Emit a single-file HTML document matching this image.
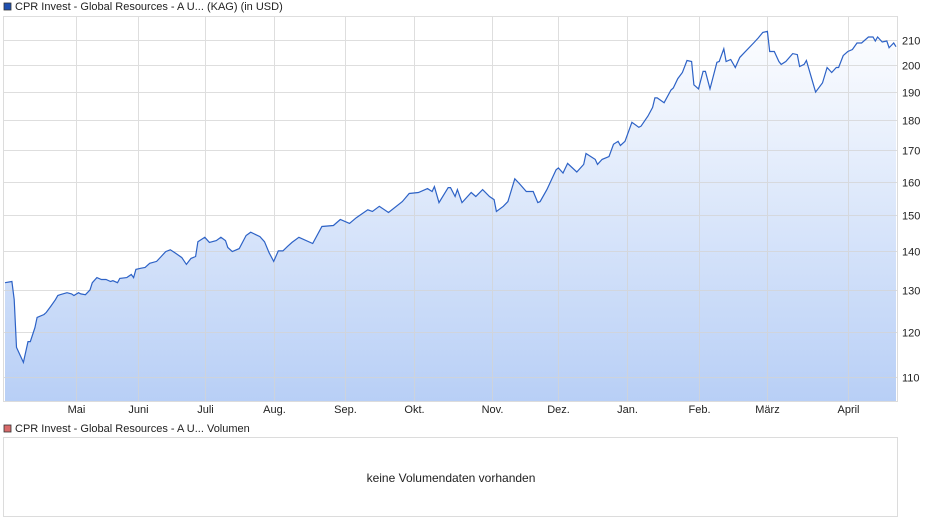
<!DOCTYPE html>
<html><head><meta charset="utf-8"><style>
body{margin:0;background:#fff;font-family:"Liberation Sans",sans-serif;}
svg{display:block}
text{font-family:"Liberation Sans",sans-serif;}
</style></head><body>
<svg id="c" width="940" height="526">
<defs><linearGradient id="g" gradientUnits="userSpaceOnUse" x1="0" y1="16" x2="0" y2="401">
<stop offset="0" stop-color="#ffffff"/><stop offset="1" stop-color="#b8cff6"/></linearGradient></defs>
<rect x="4" y="3" width="7" height="7" fill="#1f4fb0" stroke="#333" stroke-width="0.8"/>
<text x="15" y="10" font-size="11" fill="#222">CPR Invest - Global Resources - A U... (KAG) (in USD)</text>
<path id="area" fill="url(#g)"/>
<g id="grid" opacity="0.75"></g>
<path id="line" fill="none" stroke="#2d62c6" stroke-width="1.2"/>
<g id="axes"></g>
<rect x="4" y="425" width="7" height="7" fill="#d96a6a" stroke="#333" stroke-width="0.8"/>
<text x="15" y="432" font-size="11" fill="#222">CPR Invest - Global Resources - A U... Volumen</text>
<rect x="3.5" y="437.5" width="894" height="79" fill="none" stroke="#dcdcdc"/>
<text x="451" y="482" font-size="12" fill="#222" text-anchor="middle">keine Volumendaten vorhanden</text>
</svg>
<script>
const days=[0,3,4,5,8,10,11,13,14,17,18,20,22,23,24,27,29,30,32,33,35,37,38,40,42,44,46,47,49,50,53,55,56,57,59,61,63,66,68,70,72,74,77,79,81,83,84,87,89,92,94,96,97,99,102,105,107,109,111,113,115,117,119,121,123,125,128,134,138,143,146,150,153,158,160,163,167,173,176,180,184,186,187,189,193,194,196,197,199,203,205,208,211,213,214,217,219,222,224,227,230,232,233,236,240,241,243,245,249,252,253,257,258,260,263,265,267,268,270,273,276,277,280,282,283,284,287,290,291,293,295,297,299,300,302,304,305,307,310,311,313,314,316,318,320,322,326,328,330,332,333,335,337,338,340,343,345,346,348,349,353,356,358,360,362,363,365,367,369,371,373,376,378,379,380,382,384,385,387,388];
const prices=[131.8,132.1,127.6,116.4,113.1,117.7,117.7,120.9,123.3,124.0,124.5,126.0,127.6,128.6,128.8,129.3,129.0,128.6,129.3,129.0,128.8,130,131.8,133.1,132.6,132.6,132.1,132.3,131.8,132.9,133.1,133.9,133.1,135.2,135.5,135.7,136.8,137.3,138.6,139.9,140.4,139.6,138.3,136.5,138.1,138.6,142.6,143.8,142.4,142.9,143.8,142.9,141.0,139.9,140.7,144.3,145.2,144.6,144.0,142.6,139.6,137.3,140.1,140.1,141.3,142.4,143.8,142.1,146.8,147.1,148.8,147.7,149.3,151.6,151.1,152.6,150.8,154.0,156.4,156.7,157.9,157.0,158.5,153.7,158.2,158.2,155.5,157.6,153.7,156.7,155.5,157.6,155.5,154.6,151.1,152.6,154.0,160.9,159.4,157.0,157.0,153.7,154.0,157.6,163.7,164.3,162.7,165.7,163.0,165.4,168.9,167.0,165.4,167.0,167.9,171.9,172.9,171.5,172.9,179.3,177.6,178.0,181.5,184.5,187.9,187.9,186.2,190.8,191.5,195,197.3,201.9,201.5,192.7,191.2,197.7,197.7,191.2,201.2,201.5,206.5,201.5,202.3,199.2,203.1,205,208.8,210.8,213.1,213.5,205.4,205.4,201.5,200.4,201.5,204.6,204.2,199.6,200.4,201.9,190,193.4,199.2,197.3,199.2,199.2,203.8,205.4,206.2,208.8,208.8,211.2,211.2,209.6,211.2,209.2,209.6,206.9,208.8,207.3];
const yTicks=[110,120,130,140,150,160,170,180,190,200,210];
const monthLabels=["Mai","Juni","Juli","Aug.","Sep.","Okt.","Nov.","Dez.","Jan.","Feb.","März","April"];
const monthDays=[31,58,87,117,148,178,212,241,271,302,332,367];

const L=4,R=897,T=16,B=401;
const xs=d=>L+1+d*(R-L-2)/388;
const ys=v=>40-521*Math.log(v/210);
const NS="http://www.w3.org/2000/svg";
const grid=document.getElementById('grid'),axes=document.getElementById('axes');
function mk(tag,attrs,parent){const e=document.createElementNS(NS,tag);for(const k in attrs)e.setAttribute(k,attrs[k]);parent.appendChild(e);return e;}
yTicks.forEach(v=>{
  const y=Math.round(ys(v))+0.5;
  const l=mk('line',{x1:L,x2:R,y1:y,y2:y,stroke:'#d4d4d4'},grid);
  
  
  const t=mk('text',{x:902,y:y+4,'font-size':11,fill:'#222'},axes);
  t.textContent=v;
  
  
});
const tl=mk('line',{x1:L,x2:R,y1:T+0.5,y2:T+0.5,stroke:'#d4d4d4'},grid);


monthDays.forEach((d,i)=>{
  const x=Math.round(xs(d))+0.5;
  const l=mk('line',{x1:x,x2:x,y1:T,y2:B,stroke:'#d4d4d4'},grid);
  
  
  const t=mk('text',{x:x,y:413,'font-size':11,fill:'#222','text-anchor':'middle'},axes);
  t.textContent=monthLabels[i];
  
  
});
let d='';
days.forEach((dd,i)=>{d+=(i?'L':'M')+xs(dd).toFixed(1)+','+ys(prices[i]).toFixed(1);});
document.getElementById('line').setAttribute('d',d);
document.getElementById('area').setAttribute('d',d+'L'+xs(days[days.length-1]).toFixed(1)+','+B+'L'+xs(days[0]).toFixed(1)+','+B+'Z');
const bl=mk('path',{d:`M${L-0.5},${T}V${B+0.5}H${R+0.5}V${T}`,fill:'none',stroke:'#dcdcdc'},axes);


</script>
</body></html>
